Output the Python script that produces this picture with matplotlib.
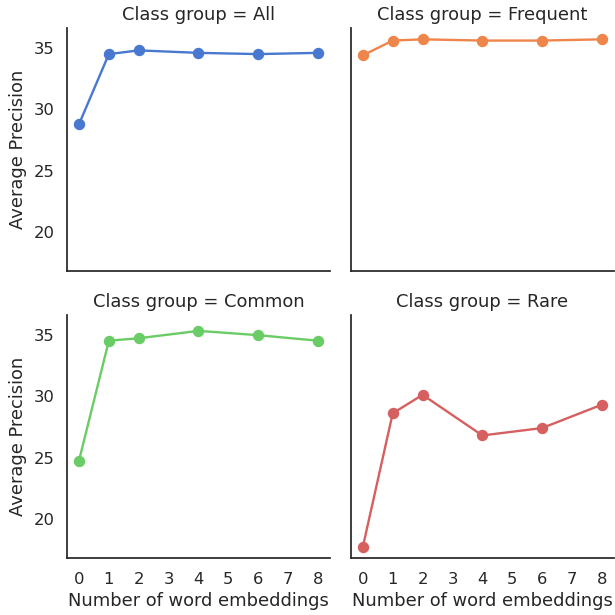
import matplotlib
matplotlib.use("Agg")
import matplotlib.pyplot as plt
import seaborn as sns

sns.set_style("white")
plt.rcParams['font.family'] = ['DejaVu Sans']

num_embeddings = [0, 1, 2, 4, 6, 8]
groups = ["All", "Frequent", "Common", "Rare"]
ap_all = [28.8, 34.5, 34.8, 34.6, 34.5, 34.6]
ap_frequent = [34.4, 35.6, 35.7, 35.6, 35.6, 35.7]
ap_common = [24.75, 34.5, 34.7, 35.3, 34.95, 34.5]
ap_rare = [17.75, 28.6, 30.1, 26.8, 27.4, 29.3]
series = [ap_all, ap_frequent, ap_common, ap_rare]
colors = sns.color_palette("muted", 4)
xticks = list(range(0, 9))
yticks = [20, 25, 30, 35]

fig, axes = plt.subplots(2, 2, figsize=(6.15, 6.15), dpi=100, sharex=True, sharey=True)
fig.subplots_adjust(left=0.109, right=0.998, top=0.954, bottom=0.093, wspace=0.08, hspace=0.18)

text_color = "#262626"
for ax, g, vals, c in zip(axes.flat, groups, series, colors):
    ax.plot(num_embeddings, vals, color=c, marker="o", linewidth=1.7, markersize=7.2)
    ax.set_title(f"Class group = {g}", fontsize=12.9, color=text_color)
    for s in ["top", "right"]:
        ax.spines[s].set_visible(False)
    for s in ["left", "bottom"]:
        ax.spines[s].set_color(text_color)
        ax.spines[s].set_linewidth(1.25)
    ax.tick_params(axis="both", length=0, labelsize=11.8, colors=text_color)
    ax.tick_params(axis="x", pad=10)
    ax.tick_params(axis="y", pad=9)

axes[0, 0].set_xticks(xticks)
axes[0, 0].set_yticks(yticks)
for ax in axes[:, 0]:
    ax.set_ylabel("Average Precision", fontsize=12.9, color=text_color, labelpad=5)
for ax in axes[1, :]:
    ax.set_xlabel("Number of word embeddings", fontsize=12.9, color=text_color, labelpad=4)
for ax in axes[0, :]:
    ax.tick_params(axis="x", labelbottom=False)
for ax in axes[:, 1]:
    ax.tick_params(axis="y", labelleft=False)

fig.savefig("out.png", dpi=100)
